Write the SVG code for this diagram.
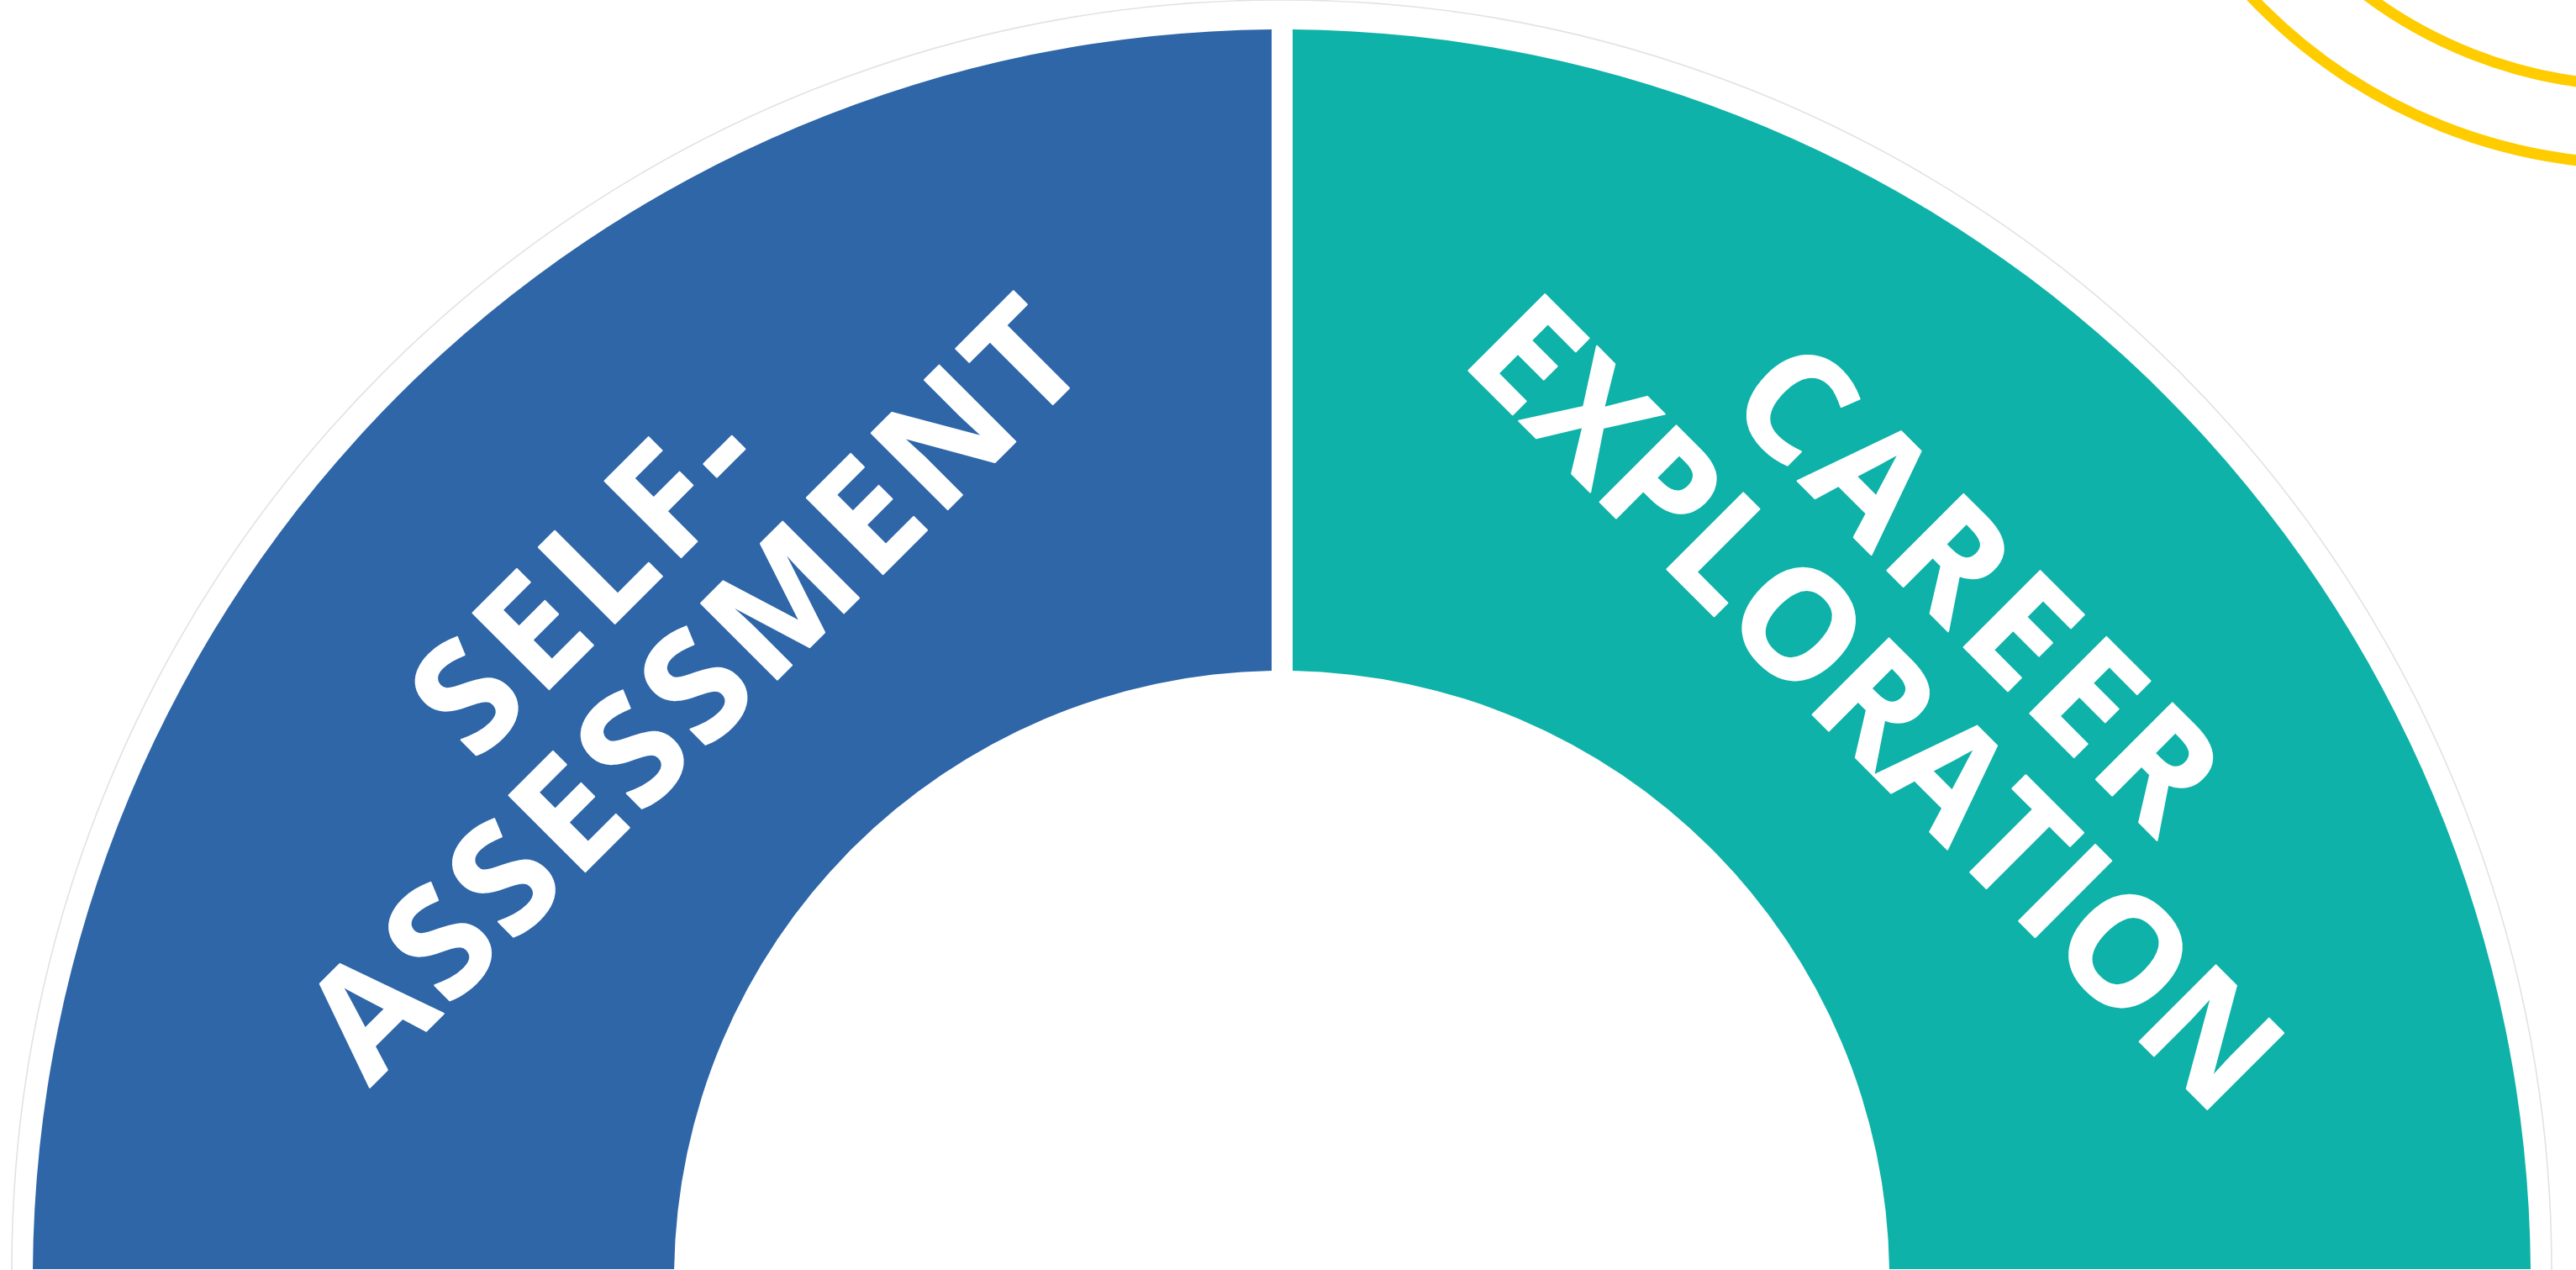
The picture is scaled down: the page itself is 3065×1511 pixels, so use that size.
<svg xmlns="http://www.w3.org/2000/svg" width="3065" height="1511" viewBox="0 0 3065 1511">
  <style>
    .seg-self { fill: #2E66A8; }
    .seg-career { fill: #0EB2A8; }
    .label { font-family: "Open Sans", "Liberation Sans", sans-serif; font-weight: 700; font-size: 180px; fill: #FFFFFF; stroke: #FFFFFF; stroke-width: 2; stroke-linejoin: round; text-anchor: middle; }
    .accent { fill: none; stroke: #FFCC00; stroke-width: 13; }
    .rim { fill: none; stroke: #D6D6D6; stroke-width: 1.6; stroke-opacity: 0.7; }
  </style>

  <rect width="3065" height="1511" fill="#FFFFFF"/>

  <!-- decorative yellow arcs, top right -->
  <g id="accent-arcs">
    <circle class="accent" cx="3140" cy="-440" r="635"/>
    <circle class="accent" cx="3140" cy="-440" r="542"/>
  </g>

  <!-- faint rim around the outer edge of the ring -->
  <path class="rim" d="M 14,1511 A 1511 1511 0 0 1 3036,1511"/>

  <!-- ring segment: self-assessment (ring centre 1525,1521) -->
  <g id="self-assessment">
    <path class="seg-self" d="M 39,1510 A 1486 1486 0 0 1 1513,35.05 L 1513,798.1 A 723 723 0 0 0 802.1,1510 Z"/>
    <g transform="translate(747.2,743.2) rotate(-45)">
      <text class="label" x="3" y="-12" textLength="497" lengthAdjust="spacing">SELF-</text>
      <text class="label" x="1" y="172" textLength="1215" lengthAdjust="spacing">ASSESSMENT</text>
    </g>
  </g>

  <!-- ring segment: career exploration -->
  <g id="career-exploration">
    <path class="seg-career" d="M 1538,35.06 A 1486 1486 0 0 1 3011,1510 L 2248,1510 A 723 723 0 0 0 1538,798.1 Z"/>
    <g transform="translate(2302.8,743.2) rotate(45)">
      <text class="label" x="3" y="-5" textLength="730" lengthAdjust="spacing">CAREER</text>
      <text class="label" x="15" y="179" textLength="1275" lengthAdjust="spacing">EXPLORATION</text>
    </g>
  </g>

  <g id="connectors"/>
</svg>
